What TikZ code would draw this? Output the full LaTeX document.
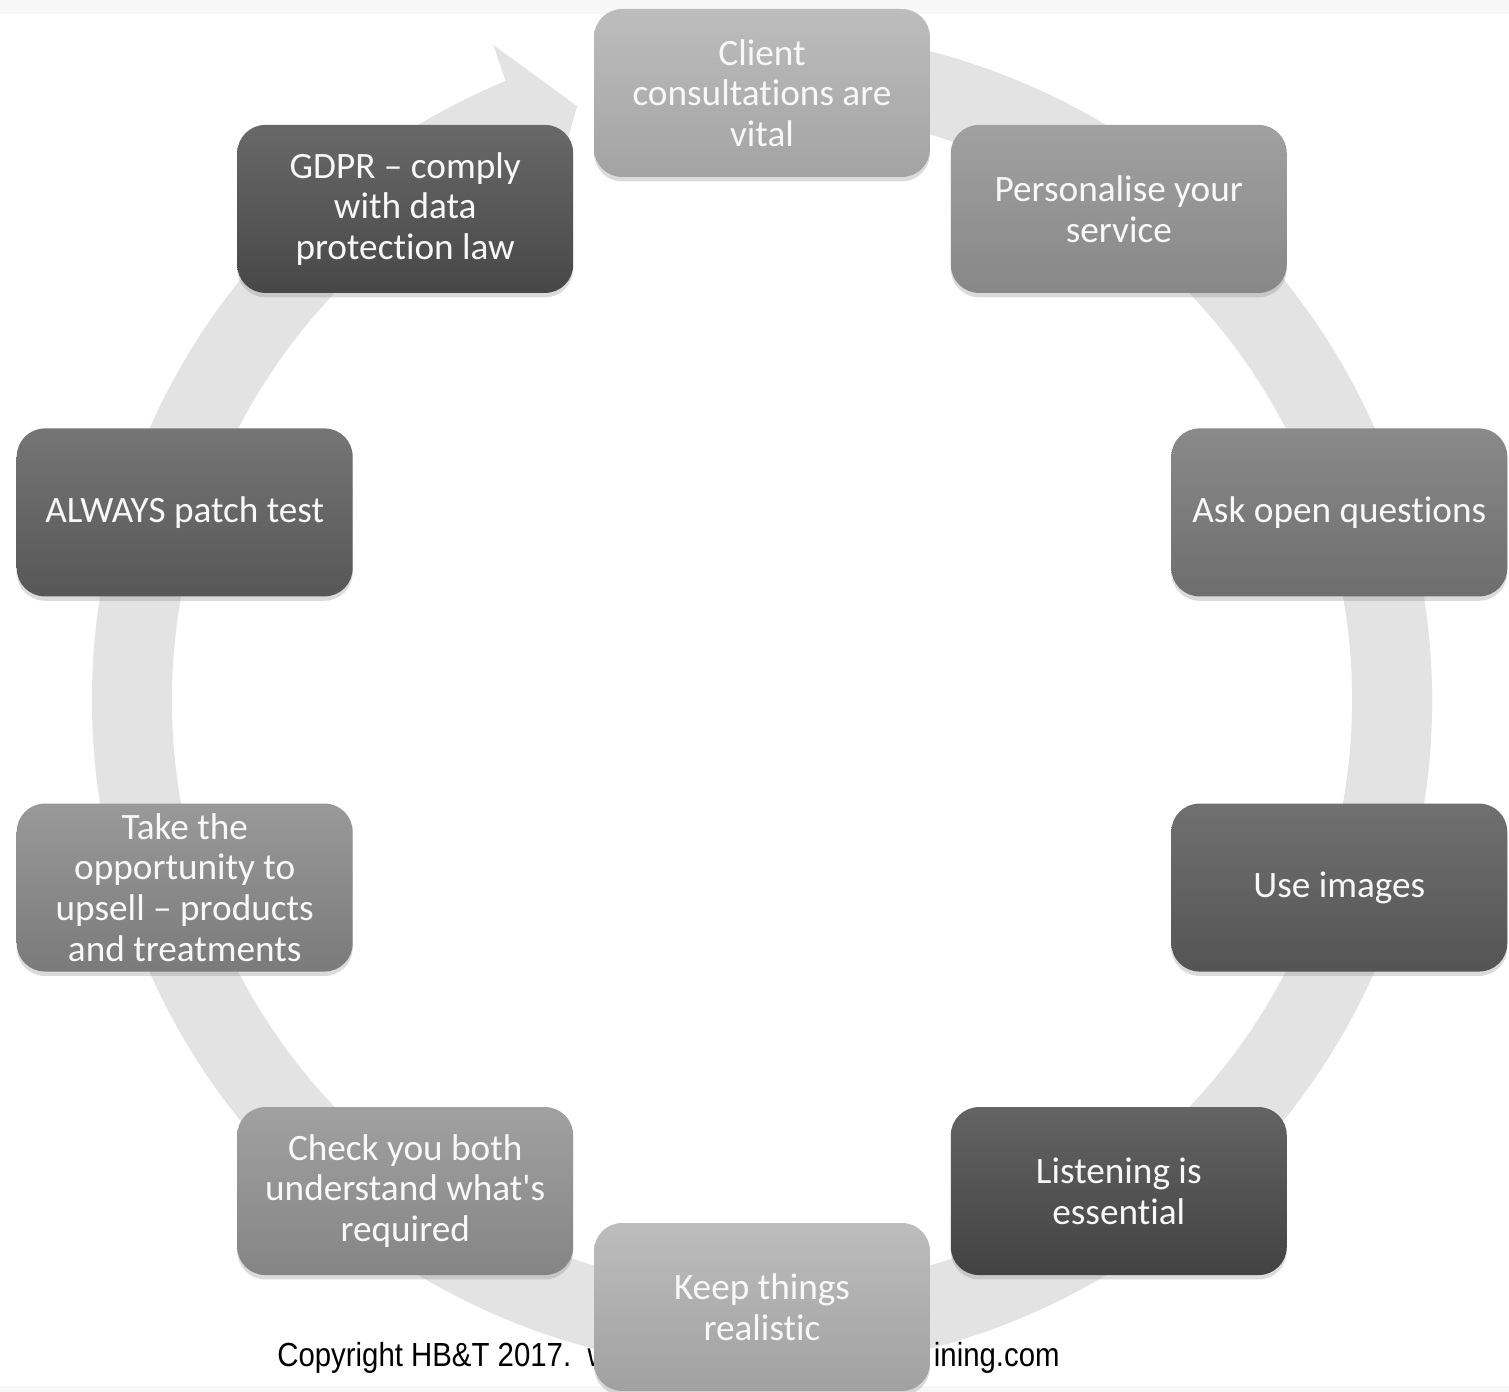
\documentclass[tikz,border=0pt]{standalone}
\usepackage{fontspec}
\setmainfont{Carlito}[Ligatures={NoCommon}]
\newfontfamily\cfont{Liberation Sans}[FakeStretch=0.88]
\usetikzlibrary{shadows}
\definecolor{ringc}{HTML}{E3E3E3}
\definecolor{bandc}{HTML}{F7F7F7}
\definecolor{txtc}{HTML}{F8F8F8}
\tikzset{
  card/.style={rounded corners=16pt, minimum width=6.72cm, minimum height=3.36cm,
    inner sep=0pt, align=center, text=txtc,
    font=\fontsize{21.2}{23.2}\selectfont,
    drop shadow={shadow xshift=0pt, shadow yshift=-2.5pt, opacity=0.28}},
}
\begin{document}
\begin{tikzpicture}[x=0.02cm, y=0.02cm]
\useasboundingbox (0,0) rectangle (1509,1392);
\fill[white] (0,0) rectangle (1509,1392);
\fill[bandc] (0,1378) rectangle (1509,1392);
\fill[bandc] (0,0) rectangle (1509,6);
\coordinate (c) at (762,692);
% circular arrow
\fill[ringc]
  ([shift={(100:670)}]c) arc[start angle=100, end angle=-247.5, radius=670]
  -- ([shift={(112.3:708)}]c)
  -- ([shift={(107.3:622)}]c)
  -- ([shift={(112.3:550)}]c)
  -- ([shift={(112.5:590)}]c)
  arc[start angle=-247.5, end angle=100, radius=590] -- cycle;
% copyright text
\node[anchor=base west, inner sep=0pt, font=\cfont\fontsize{19}{22}\selectfont] (copy1) at (277,25) {Copyright HB\&T 2017.\ \ w};
\node[anchor=base east, inner sep=0pt, font=\cfont\fontsize{19}{22}\selectfont] (copy2) at (1060,25) {ining.com};
% cards
\node[card, top color=black!26, bottom color=black!36] (n1) at ([shift={(90:607)}]c) {Client\\consultations are\\vital};
\node[card, top color=black!37, bottom color=black!47] (n2) at ([shift={(54:607)}]c) {Personalise your\\service};
\node[card, top color=black!46, bottom color=black!57] (n3) at ([shift={(18:607)}]c) {Ask open questions};
\node[card, top color=black!56, bottom color=black!67] (n4) at ([shift={(-18:607)}]c) {Use images};
\node[card, top color=black!61, bottom color=black!74] (n5) at ([shift={(-54:607)}]c) {Listening is\\essential};
\node[card, top color=black!26, bottom color=black!37] (n6) at ([shift={(-90:607)}]c) {Keep things\\realistic};
\node[card, top color=black!37, bottom color=black!48] (n7) at ([shift={(-126:607)}]c) {Check you both\\understand what\textquotesingle s\\required};
\node[card, top color=black!40, bottom color=black!52] (n8) at ([shift={(-162:607)}]c) {Take the\\opportunity to\\upsell -- products\\and treatments};
\node[card, top color=black!54, bottom color=black!66] (n9) at ([shift={(162:607)}]c) {ALWAYS patch test};
\node[card, top color=black!59, bottom color=black!72] (n10) at ([shift={(126:607)}]c) {GDPR -- comply\\with data\\protection law};
\end{tikzpicture}
\end{document}
